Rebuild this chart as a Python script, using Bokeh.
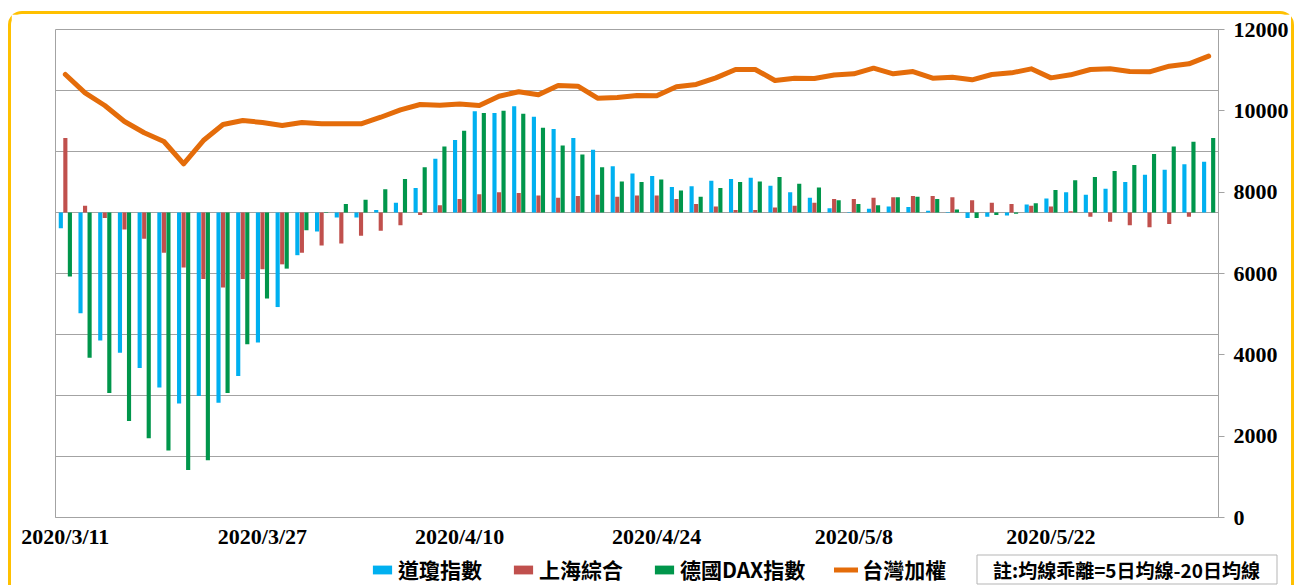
from bokeh.plotting import figure
from bokeh.layouts import column
from bokeh.models import (ColumnDataSource, Range1d, LinearAxis, FixedTicker,
                          Legend, LegendItem, Label)
from bokeh.transform import dodge
from bokeh.embed import file_html
from bokeh.resources import INLINE

# ---------------- data ----------------
dates = [
    "2020/3/11", "2020/3/12", "2020/3/13", "2020/3/16", "2020/3/17", "2020/3/18",
    "2020/3/19", "2020/3/20", "2020/3/23", "2020/3/24", "2020/3/27",
    "2020/3/30", "2020/3/31", "2020/4/1", "2020/4/2", "2020/4/3", "2020/4/6",
    "2020/4/7", "2020/4/8", "2020/4/9", "2020/4/10",
    "2020/4/13", "2020/4/14", "2020/4/15", "2020/4/16", "2020/4/17", "2020/4/20",
    "2020/4/21", "2020/4/22", "2020/4/23", "2020/4/24",
    "2020/4/27", "2020/4/28", "2020/4/29", "2020/4/30", "2020/5/1", "2020/5/4",
    "2020/5/5", "2020/5/6", "2020/5/7", "2020/5/8",
    "2020/5/11", "2020/5/12", "2020/5/13", "2020/5/14", "2020/5/15", "2020/5/18",
    "2020/5/19", "2020/5/20", "2020/5/21", "2020/5/22",
    "2020/5/25", "2020/5/26", "2020/5/27", "2020/5/28", "2020/5/29", "2020/6/1",
    "2020/6/2", "2020/6/3",
]
shown_labels = ["2020/3/11", "2020/3/27", "2020/4/10", "2020/4/24", "2020/5/8", "2020/5/22"]

dji = [-0.26, -1.65, -2.10, -2.30, -2.55, -2.87, -3.13, -3.01, -3.12, -2.68,
       -2.13, -1.55, -0.70, -0.31, -0.08, -0.08, 0.04, 0.16, 0.40, 0.88,
       1.19, 1.66, 1.63, 1.74, 1.57, 1.37, 1.22, 1.03, 0.76, 0.64,
       0.60, 0.42, 0.43, 0.52, 0.55, 0.57, 0.44, 0.33, 0.24, 0.07,
       -0.01, 0.06, 0.10, 0.09, 0.03, -0.01, -0.09, -0.07, -0.05, 0.13,
       0.23, 0.33, 0.29, 0.39, 0.50, 0.62, 0.70, 0.79, 0.83]
sse = [1.22, 0.11, -0.09, -0.28, -0.43, -0.66, -0.90, -1.09, -1.23, -1.09,
       -0.93, -0.85, -0.66, -0.54, -0.51, -0.38, -0.30, -0.21, -0.04, 0.12,
       0.22, 0.30, 0.33, 0.32, 0.28, 0.24, 0.27, 0.29, 0.26, 0.28,
       0.28, 0.22, 0.14, 0.10, 0.04, 0.04, 0.08, 0.11, 0.16, 0.22,
       0.22, 0.24, 0.25, 0.27, 0.27, 0.25, 0.20, 0.16, 0.14, 0.11,
       0.10, 0.02, -0.07, -0.15, -0.21, -0.24, -0.19, -0.07, 0.00]
dax = [-1.05, -2.38, -2.96, -3.42, -3.70, -3.90, -4.22, -4.06, -2.96, -2.16,
       -1.41, -0.92, -0.29, 0.01, 0.14, 0.21, 0.38, 0.55, 0.74, 1.08,
       1.34, 1.63, 1.67, 1.62, 1.39, 1.10, 0.95, 0.74, 0.51, 0.50,
       0.54, 0.36, 0.26, 0.40, 0.50, 0.51, 0.58, 0.47, 0.41, 0.20,
       0.14, 0.12, 0.25, 0.26, 0.22, 0.05, -0.09, -0.04, -0.02, 0.15,
       0.37, 0.53, 0.58, 0.68, 0.78, 0.96, 1.08, 1.16, 1.22]
taiex = [10893, 10443, 10131, 9738, 9460, 9246, 8697, 9270, 9664, 9762,
         9713, 9640, 9713, 9681, 9681, 9681, 9843, 10025, 10156, 10139,
         10170, 10131, 10360, 10470, 10394, 10623, 10606, 10311, 10328, 10377,
         10370, 10591, 10648, 10810, 11017, 11017, 10746, 10800, 10795, 10880,
         10910, 11049, 10910, 10967, 10803, 10828, 10762, 10893, 10934, 11033,
         10811, 10885, 11016, 11033, 10967, 10959, 11098, 11156, 11344]

series_names = ["道瓊指數", "上海綜合", "德國DAX指數", "台灣加權"]
note_text = "註:均線乖離=5日均線-20日均線"
right_ticks = [0, 2000, 4000, 6000, 8000, 10000, 12000]
left_ticks = [-5, -4, -3, -2, -1, 0, 1, 2, 3]

BLUE = "#00B0F0"
RED = "#C0504D"
GREEN = "#00964B"
ORANGE = "#E46C0A"
GRID = "#a3a3a3"
YELLOW = "#FFC000"

n = len(dates)
xpos = [i + 0.5 for i in range(n)]          # category centres
source = ColumnDataSource(dict(x=xpos, date=dates, dji=dji, sse=sse, dax=dax, taiex=taiex))

W = 1280
p = figure(width=W, height=537,
           x_range=Range1d(0, n), y_range=Range1d(left_ticks[0], left_ticks[-1]),
           output_backend="svg", toolbar_location=None,
           min_border_left=44, min_border_right=72,
           min_border_top=15, min_border_bottom=34)
p.background_fill_color = "white"
p.border_fill_color = "white"
p.outline_line_color = GRID
p.outline_line_width = 1

# left (unlabelled) value scale: gridlines only
p.yaxis.visible = False
p.ygrid.ticker = FixedTicker(ticks=left_ticks)
p.ygrid.grid_line_color = GRID
p.ygrid.grid_line_width = 1
p.xgrid.grid_line_color = None

# bottom axis: one label every 10 trading days
label_ticks = [xpos[dates.index(d)] for d in shown_labels]
p.xaxis.ticker = FixedTicker(ticks=label_ticks)
p.xaxis.major_label_overrides = {t: d for t, d in zip(label_ticks, shown_labels)}
p.xaxis.major_tick_line_color = None
p.xaxis.minor_tick_line_color = None
p.xaxis.axis_line_color = GRID
p.xaxis.major_label_standoff = 0
p.xaxis.major_label_text_font = "Liberation Serif"
p.xaxis.major_label_text_font_style = "bold"
p.xaxis.major_label_text_font_size = "22px"
p.xaxis.major_label_text_color = "black"

# right axis (台灣加權)
p.extra_y_ranges = {"tw": Range1d(0, 12000)}
ax = LinearAxis(y_range_name="tw", ticker=FixedTicker(ticks=right_ticks))
ax.axis_line_color = GRID
ax.major_tick_line_color = GRID
ax.major_tick_out = 6
ax.major_tick_in = 0
ax.minor_tick_line_color = None
ax.major_label_standoff = 9
ax.major_label_text_font = "Liberation Serif"
ax.major_label_text_font_style = "bold"
ax.major_label_text_font_size = "22px"
ax.major_label_text_color = "black"
p.add_layout(ax, "right")

bw = 0.21
p.vbar(x=dodge("x", -0.23), top="dji", bottom=0, width=bw,
       fill_color=BLUE, line_color=None, source=source)
p.vbar(x=dodge("x", 0.0), top="sse", bottom=0, width=bw,
       fill_color=RED, line_color=None, source=source)
p.vbar(x=dodge("x", 0.23), top="dax", bottom=0, width=bw,
       fill_color=GREEN, line_color=None, source=source)
p.line(x="x", y="taiex", y_range_name="tw", line_width=5, line_color=ORANGE,
       line_join="round", line_cap="round", source=source)

# ---------------- legend / note strip (page-pixel coordinates) ----------------
H2 = 34
X0, Y0 = 11, 551          # page position of the strip's top-left corner
p2 = figure(width=W, height=H2, x_range=Range1d(X0, X0 + W), y_range=Range1d(0, H2),
            output_backend="svg", toolbar_location=None,
            x_axis_location=None, y_axis_location=None,
            min_border_left=0, min_border_right=0,
            min_border_top=0, min_border_bottom=0)
p2.frame_align = False
p2.outline_line_color = None
p2.grid.grid_line_color = None
p2.background_fill_color = "white"
p2.border_fill_color = "white"

dummy = ColumnDataSource(dict(x=[-1000], y=[0]))
g1 = p2.vbar(x="x", top="y", width=1, fill_color=BLUE, line_color=None, source=dummy)
g2 = p2.vbar(x="x", top="y", width=1, fill_color=RED, line_color=None, source=dummy)
g3 = p2.vbar(x="x", top="y", width=1, fill_color=GREEN, line_color=None, source=dummy)
g4 = p2.line(x="x", y="y", line_width=5, line_color=ORANGE, line_cap="round", source=dummy)

legend = Legend(items=[LegendItem(label=series_names[0], renderers=[g1]),
                       LegendItem(label=series_names[1], renderers=[g2]),
                       LegendItem(label=series_names[2], renderers=[g3]),
                       LegendItem(label=series_names[3], renderers=[g4])],
                orientation="horizontal", location=(370 - X0, 1))
legend.border_line_color = None
legend.background_fill_alpha = 0
legend.padding = 0
legend.margin = 0
legend.spacing = 29
legend.glyph_width = 24
legend.glyph_height = 11
legend.label_standoff = 4
legend.label_height = 22
legend.label_text_font = "Noto Sans CJK TC"
legend.label_text_font_style = "bold"
legend.label_text_font_size = "21px"
legend.label_text_color = "black"
p2.add_layout(legend)

# note box (decoration) and its text
def py(page_y):
    return Y0 + H2 - page_y

p2.quad(left=976.5, right=1276.5, top=py(554.5), bottom=py(583.5),
        fill_color="white", line_color="#b5b5b5", line_width=1)
note = Label(x=1126, y=py(569), text=note_text,
             text_align="center", text_baseline="middle",
             text_font="Noto Sans CJK TC", text_font_style="bold",
             text_font_size="19px", text_color="black")
p2.add_layout(note)

layout = column(p, p2, spacing=0, margin=(11, 0, 0, 8),
                styles={"border-top": "3px solid " + YELLOW,
                        "border-left": "3px solid " + YELLOW,
                        "border-right": "3px solid " + YELLOW,
                        "border-top-left-radius": "14px",
                        "border-top-right-radius": "14px"})

open("out.html", "w").write(file_html(layout, INLINE))
